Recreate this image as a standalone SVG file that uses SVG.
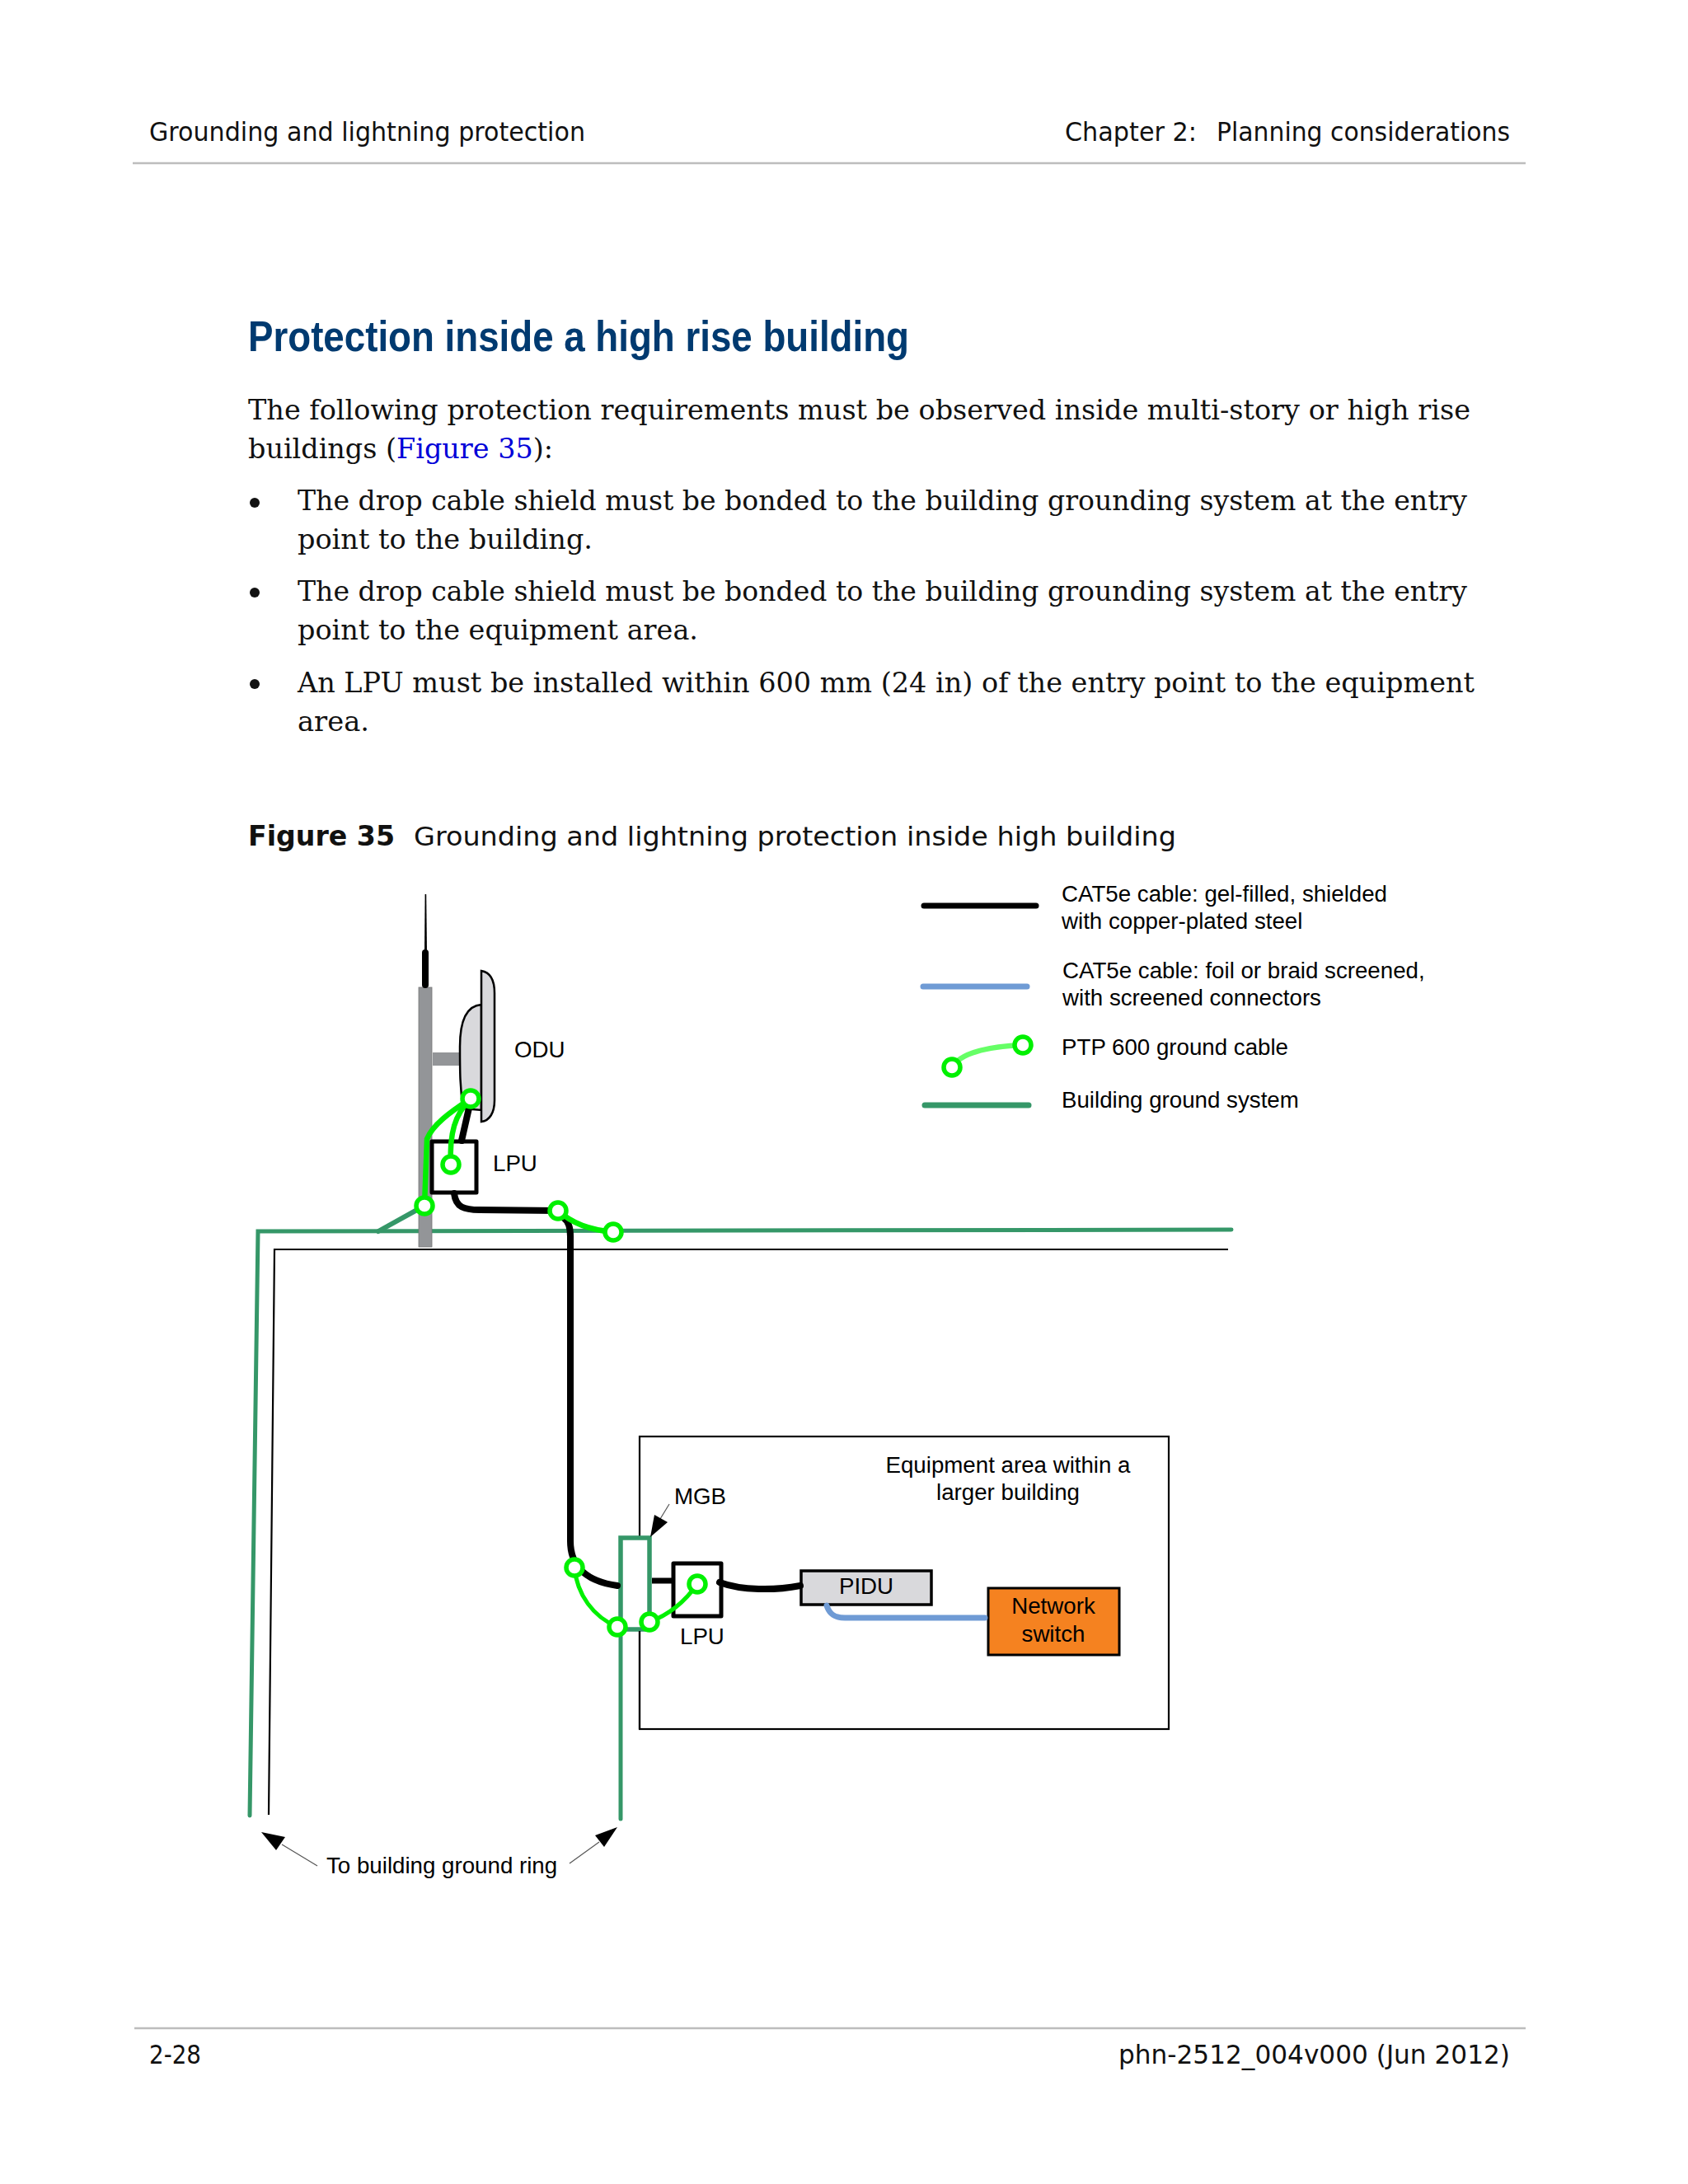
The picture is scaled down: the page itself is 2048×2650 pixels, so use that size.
<svg xmlns="http://www.w3.org/2000/svg" width="2048" height="2650" viewBox="0 0 2048 2650">
<style>
text{fill:#000}
.h{font:32px "DejaVu Sans",sans-serif;fill:#111;white-space:pre}
.b{font:34px "DejaVu Serif",serif;fill:#111}
.d{font:27.7px "Liberation Sans",Arial,sans-serif}
.gc{fill:none;stroke:#00f000;stroke-width:5;stroke-linecap:round}
.gt{stroke-width:6.5}
.gn{fill:#fff;stroke:#00f000;stroke-width:5.5}
.bg{fill:none;stroke:#359768;stroke-width:5;stroke-linecap:round}
.bk{fill:none;stroke:#000;stroke-width:8;stroke-linecap:round}
.th{fill:none;stroke:#000;stroke-width:2.2}
.ld{fill:none;stroke:#555;stroke-width:1.2}
.nd{stroke:#000;stroke-width:5;stroke-linejoin:round}
</style>
<rect width="2048" height="2650" fill="#fff"/>
<g id="page">
<line x1="161" y1="198" x2="1851" y2="198" stroke="#bdbdbd" stroke-width="2.5"/>
<line x1="163" y1="2461" x2="1851" y2="2461" stroke="#bdbdbd" stroke-width="2.5"/>
<text class="h" x="181" y="171" textLength="529" lengthAdjust="spacingAndGlyphs">Grounding and lightning protection</text>
<text class="h" x="1292" y="171" textLength="160" lengthAdjust="spacingAndGlyphs">Chapter 2:</text>
<text class="h" x="1476" y="171" textLength="356" lengthAdjust="spacingAndGlyphs">Planning considerations</text>
<text x="301" y="426" textLength="802" lengthAdjust="spacingAndGlyphs" style="font:bold 52px 'Liberation Sans',Arial,sans-serif;fill:#003a70">Protection inside a high rise building</text>
<text class="b" x="301" y="509" textLength="1483" lengthAdjust="spacingAndGlyphs">The following protection requirements must be observed inside multi-story or high rise</text>
<text class="b" x="301" y="556" textLength="370" lengthAdjust="spacingAndGlyphs">buildings (<tspan fill="#0000d8">Figure 35</tspan>):</text>
<circle cx="309" cy="610" r="6" fill="#111"/>
<text class="b" x="361" y="619" textLength="1419" lengthAdjust="spacingAndGlyphs">The drop cable shield must be bonded to the building grounding system at the entry</text>
<text class="b" x="361" y="666" textLength="358" lengthAdjust="spacingAndGlyphs">point to the building.</text>
<circle cx="309" cy="719" r="6" fill="#111"/>
<text class="b" x="361" y="729" textLength="1419" lengthAdjust="spacingAndGlyphs">The drop cable shield must be bonded to the building grounding system at the entry</text>
<text class="b" x="361" y="776" textLength="486" lengthAdjust="spacingAndGlyphs">point to the equipment area.</text>
<circle cx="309" cy="830" r="6" fill="#111"/>
<text class="b" x="361" y="840" textLength="1428" lengthAdjust="spacingAndGlyphs">An LPU must be installed within 600 mm (24 in) of the entry point to the equipment</text>
<text class="b" x="361" y="887" textLength="87" lengthAdjust="spacingAndGlyphs">area.</text>
<text x="301" y="1026" textLength="178" lengthAdjust="spacingAndGlyphs" style="font:bold 33px 'DejaVu Sans',sans-serif;fill:#111">Figure 35</text>
<text class="h" x="502" y="1026" textLength="925" lengthAdjust="spacingAndGlyphs">Grounding and lightning protection inside high building</text>
<text class="h" x="181" y="2504" textLength="63" lengthAdjust="spacingAndGlyphs">2-28</text>
<text class="h" x="1357" y="2504" textLength="475" lengthAdjust="spacingAndGlyphs">phn-2512_004v000 (Jun 2012)</text>
</g>
<g id="building">
<path class="th" d="M1490 1516H333L326 2202"/>
<path class="bg" d="M303 2203L313 1494L1494 1492"/>
<path class="bg" d="M459 1494L515 1463" style="stroke-width:6"/>
</g>
<g id="mast">
<rect x="508" y="1198" width="16" height="315" fill="#939598" stroke="#777" stroke-width="0.8"/>
<path d="M515 1155L515.6 1085H517.2L518 1155Z" fill="#000"/>
<path d="M516 1156V1195" stroke="#000" stroke-width="8" stroke-linecap="round"/>
<rect x="525" y="1277" width="33" height="16" fill="#939598"/>
</g>
<g id="odu">
<path d="M584 1219C570 1220 558 1232 558 1270C558 1300 558 1320 562 1345L584 1347Z" fill="#d9d9dc" stroke="#000" stroke-width="2.5"/>
<path d="M584 1178C596 1180 600 1192 600 1205V1335C600 1350 594 1360 584 1361Z" fill="#d9d9dc" stroke="#000" stroke-width="2.5"/>
<text class="d" x="624" y="1283">ODU</text>
</g>
<g id="lpu-top">
<rect class="nd" x="524" y="1385" width="54" height="62" fill="#fff"/>
<text class="d" x="598" y="1421">LPU</text>
</g>
<g id="equipment-area">
<rect class="th" x="776" y="1743" width="642" height="355" fill="#fff"/>
<text class="d" x="1223" y="1787" text-anchor="middle">Equipment area within a</text>
<text class="d" x="1223" y="1820" text-anchor="middle">larger building</text>
</g>
<g id="mgb">
<path class="bg" d="M753 2207V1977"/>
<rect x="753" y="1866" width="35" height="111" fill="#fff" stroke="#359768" stroke-width="5.5"/>
<path class="th" d="M776 1979V2098"/>
<text class="d" x="818" y="1825">MGB</text>
</g>
<g id="lpu-bottom">
<rect class="nd" x="817" y="1897" width="58" height="64" fill="#fff"/>
<text class="d" x="825" y="1995">LPU</text>
</g>
<g id="pidu">
<rect x="972" y="1906" width="158" height="41" fill="#d9d9dc" stroke="#000" stroke-width="3.5"/>
<text class="d" x="1051" y="1934" text-anchor="middle">PIDU</text>
</g>
<g id="network-switch">
<rect x="1199" y="1927" width="159" height="81" fill="#f58220" stroke="#000" stroke-width="3"/>
<text class="d" x="1278" y="1958" text-anchor="middle">Network</text>
<text class="d" x="1278" y="1992" text-anchor="middle">switch</text>
</g>
<g id="connectors">
<path class="bk" d="M570 1340L560 1384"/>
<path class="bk" d="M551 1448C553 1465 563 1468 582 1468L677 1469"/>
<path class="bk" d="M684 1478C690 1482 692 1490 692 1500V1870C692 1895 705 1918 749 1924"/>
<path class="bk" d="M791 1918H816" style="stroke-linecap:butt;stroke-width:7"/>
<path class="bk" d="M873 1920C900 1930 940 1930 971 1924"/>
<path d="M1003 1948C1006 1958 1012 1963 1025 1963H1195" fill="none" stroke="#6f9bd5" stroke-width="7" stroke-linecap="round"/>
<path class="gc gt" d="M571 1333C545 1350 525 1365 518 1382L515 1463"/>
<path class="gc gt" d="M571 1333C552 1352 545 1375 547 1413"/>
<path class="gc gt" d="M677 1469C695 1485 715 1492 744 1495"/>
<path class="gc" d="M697 1902C700 1935 720 1962 749 1974"/>
<path class="gc" d="M788 1968C815 1958 832 1942 846 1922"/>
<circle class="gn" cx="571" cy="1333" r="10"/>
<circle class="gn" cx="547" cy="1413" r="10"/>
<circle class="gn" cx="515" cy="1463" r="10"/>
<circle class="gn" cx="677" cy="1469" r="10"/>
<circle class="gn" cx="744" cy="1495" r="10"/>
<circle class="gn" cx="697" cy="1902" r="10"/>
<circle class="gn" cx="749" cy="1974" r="10"/>
<circle class="gn" cx="788" cy="1968" r="10"/>
<circle class="gn" cx="846" cy="1922" r="10"/>
<path class="ld" d="M812 1825L801 1843"/>
<path d="M789 1865L794 1838L810 1847Z" fill="#000"/>
<path class="ld" d="M385 2264L342 2238"/>
<path d="M317 2223L346 2229L335 2245Z" fill="#000"/>
<path class="ld" d="M691 2261L727 2235"/>
<path d="M749 2217L733 2241L722 2227Z" fill="#000"/>
</g>
<g id="ground-ring-label">
<text class="d" x="396" y="2273">To building ground ring</text>
</g>
<g id="legend">
<path d="M1121 1099H1257" fill="none" stroke="#000" stroke-width="7" stroke-linecap="round"/>
<path d="M1120 1197H1246" fill="none" stroke="#6f9bd5" stroke-width="7" stroke-linecap="round"/>
<path d="M1155 1295C1165 1278 1195 1270 1241 1268" fill="none" stroke="#66ff66" stroke-width="6.5"/>
<circle class="gn" cx="1155" cy="1295" r="10"/>
<circle class="gn" cx="1241" cy="1268" r="10"/>
<path d="M1122 1341H1248" fill="none" stroke="#359768" stroke-width="7" stroke-linecap="round"/>
<text class="d" x="1288" y="1094">CAT5e cable: gel-filled, shielded</text>
<text class="d" x="1288" y="1127">with copper-plated steel</text>
<text class="d" x="1289" y="1187">CAT5e cable: foil or braid screened,</text>
<text class="d" x="1289" y="1220">with screened connectors</text>
<text class="d" x="1288" y="1280">PTP 600 ground cable</text>
<text class="d" x="1288" y="1344">Building ground system</text>
</g>
</svg>
